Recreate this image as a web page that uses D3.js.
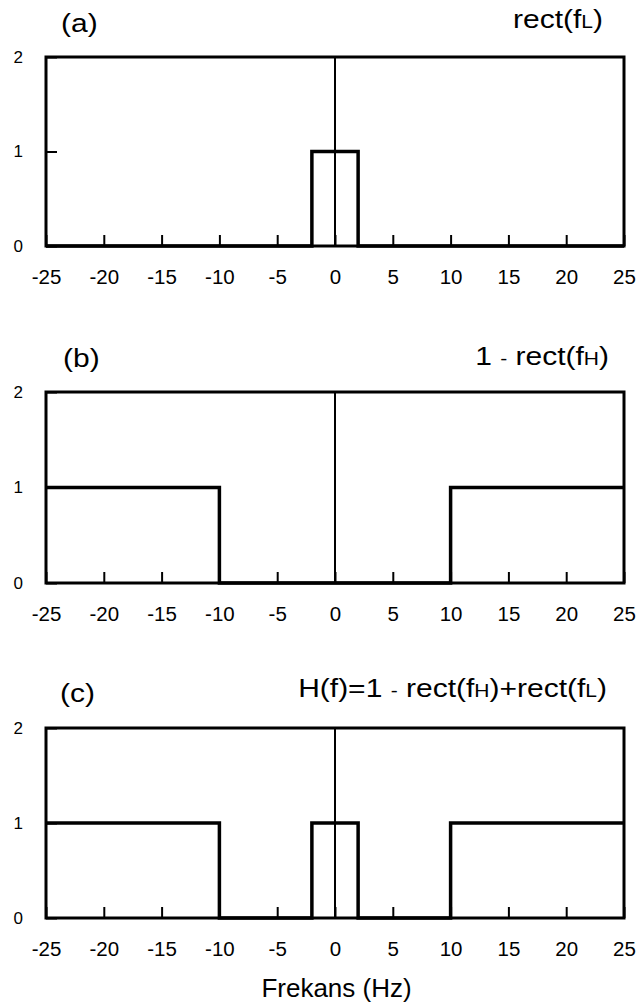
<!DOCTYPE html>
<html><head><meta charset="utf-8">
<script src="https://cdn.jsdelivr.net/npm/d3@7"></script>
<style>body{margin:0;background:#fff}svg{display:block}text{font-family:"Liberation Sans",Arial,sans-serif;fill:#000}</style>
</head><body>
<script>
const freqTicks = [-25,-20,-15,-10,-5,0,5,10,15,20,25];
const yTicks = [0,1,2];
const rectL = [[-25,0],[-2,0],[-2,1],[2,1],[2,0],[25,0]];
const oneMinusRectH = [[-25,1],[-10,1],[-10,0],[10,0],[10,1],[25,1]];
const hFilter = [[-25,1],[-10,1],[-10,0],[-2,0],[-2,1],[2,1],[2,0],[10,0],[10,1],[25,1]];
const panelLetters = ["(a)","(b)","(c)"];
const xLabel = "Frekans (Hz)";

const W = 636, H = 1007;
const svg = d3.select("body").append("svg").attr("width", W).attr("height", H);
const x = d3.scaleLinear().domain([-25,25]).range([46,624]);
const BIG = 25, SUB = 17.5, HS = 1.2;

const panels = [
  {data: rectL, top: 57, bottom: 246, letter: panelLetters[0], letterX: 61, letterY: 32, titleX: 603, titleY: 28,
   title: [["rect(f",BIG],["L",SUB],[")",BIG]]},
  {data: oneMinusRectH, top: 392, bottom: 583, letter: panelLetters[1], letterX: 63, letterY: 367, titleX: 609, titleY: 365,
   title: [["1 ",BIG],["-",SUB],[" rect(f",BIG],["H",SUB],[")",BIG]]},
  {data: hFilter, top: 728, bottom: 918, letter: panelLetters[2], letterX: 60, letterY: 702, titleX: 607, titleY: 697,
   title: [["H(f)=1 ",BIG],["-",SUB],[" rect(f",BIG],["H",SUB],[")+rect(f",BIG],["L",SUB],[")",BIG]]}
];

panels.forEach(p => {
  const y = d3.scaleLinear().domain([0,2]).range([p.bottom, p.top]);
  const g = svg.append("g");

  const xa = g.append("g").attr("transform", `translate(0,${p.bottom})`)
    .call(d3.axisBottom(x).tickValues(freqTicks).tickSizeInner(-11).tickSizeOuter(0).tickPadding(23).tickFormat(d3.format("d")));
  xa.select(".domain").remove();
  xa.selectAll(".tick line").attr("stroke","#000").attr("stroke-width",2);
  xa.selectAll(".tick text").attr("font-size",20.5).attr("font-family","Liberation Sans, Arial, sans-serif").attr("fill","#000")
    .text(d => d < 0 ? "-" + Math.abs(d) : String(d));

  const ya = g.append("g").attr("transform", `translate(${x(-25)},0)`)
    .call(d3.axisLeft(y).tickValues(yTicks).tickSizeInner(-11).tickSizeOuter(0).tickPadding(23).tickFormat(d3.format("d")));
  ya.select(".domain").remove();
  ya.selectAll(".tick line").attr("stroke","#000").attr("stroke-width",2);
  ya.selectAll(".tick text").attr("font-size",17).attr("font-family","Liberation Sans, Arial, sans-serif").attr("fill","#000");

  g.append("line").attr("x1",x(0)).attr("x2",x(0)).attr("y1",y(0)).attr("y2",y(2))
    .attr("stroke","#000").attr("stroke-width",2);

  g.append("rect").attr("x",x(-25)).attr("y",y(2)).attr("width",x(25)-x(-25)).attr("height",y(0)-y(2))
    .attr("fill","none").attr("stroke","#000").attr("stroke-width",3);

  const line = d3.line().x(d=>x(d[0])).y(d=>y(d[1]));
  g.append("path").attr("d", line(p.data)).attr("fill","none").attr("stroke","#000")
    .attr("stroke-width",3.5).attr("stroke-linejoin","miter");

  g.append("text").attr("transform",`translate(${p.letterX},${p.letterY}) scale(${HS},1)`)
    .attr("font-size",BIG).text(p.letter);

  const t = g.append("text").attr("transform",`translate(${p.titleX},${p.titleY}) scale(${HS},1)`)
    .attr("text-anchor","end").attr("font-size",BIG);
  p.title.forEach(([s,fs]) => t.append("tspan").attr("font-size",fs).text(s));
});

svg.append("text").attr("x",336.5).attr("y",997).attr("text-anchor","middle")
  .attr("font-size",26).text(xLabel);
</script>
</body></html>
